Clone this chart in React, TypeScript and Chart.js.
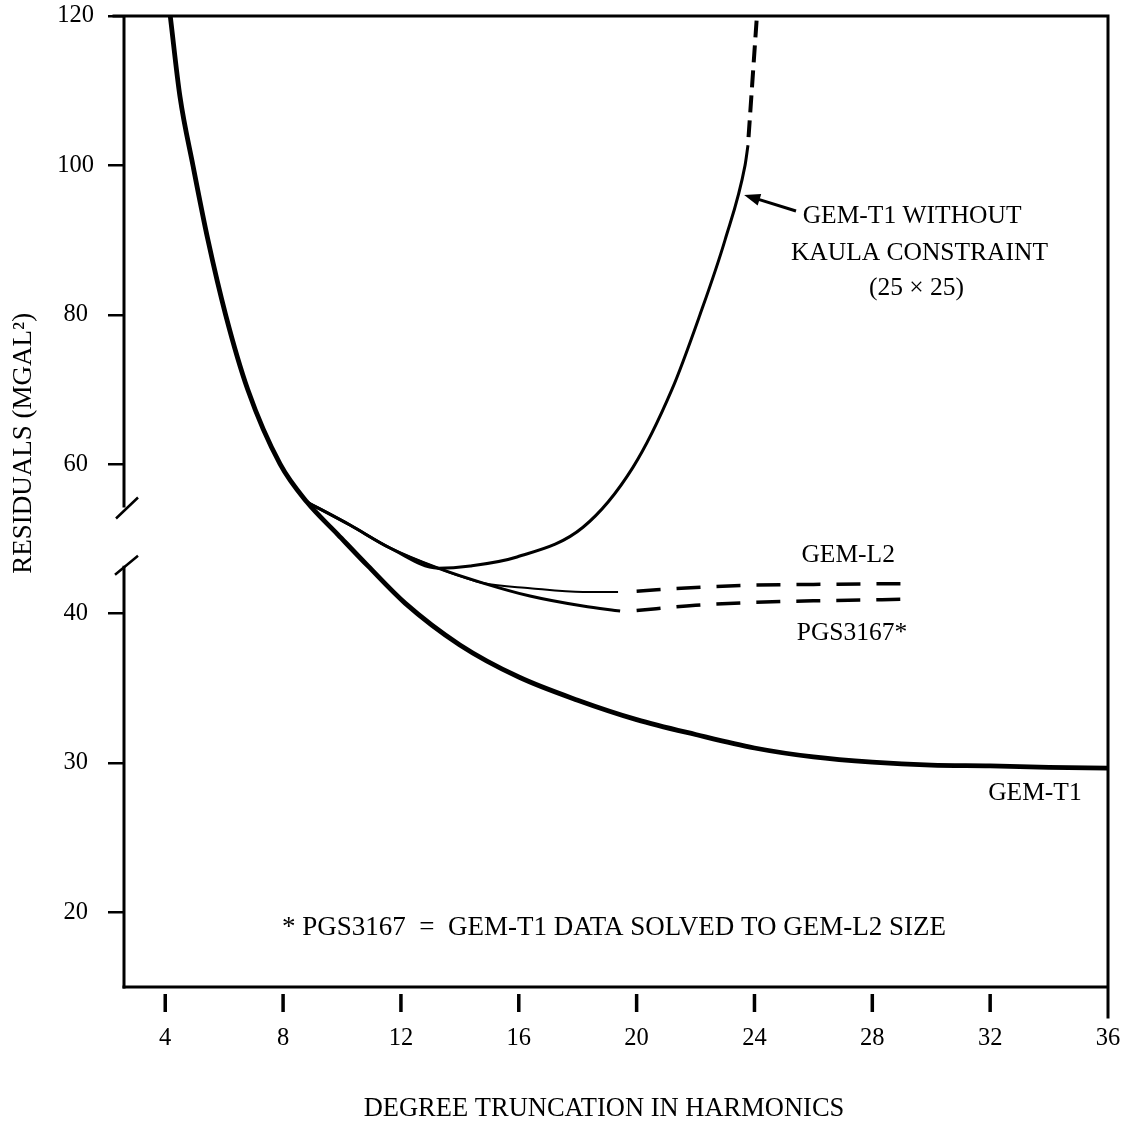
import React, { useEffect, useRef } from 'react';
import { Chart, registerables } from 'chart.js';

Chart.register(...registerables);

const FONT = '"Liberation Serif", "Times New Roman", "DejaVu Serif", serif';

// ---- data (x = degree truncation, y = residuals in mgal^2, real units) ----
const gemT1X = [4.17, 4.5, 4.94, 5.45, 6.05, 6.8, 7.9, 8.81, 9.86, 10.88, 12.14, 14, 16, 18, 20, 22, 24, 26, 28, 30, 32, 34, 36];
const gemT1Y = [120, 109.2, 100, 90, 80, 70, 60, 54.9, 49.1, 43.5, 40.7, 37.9, 35.75, 34.2, 32.9, 31.9, 31.0, 30.4, 30.05, 29.85, 29.8, 29.7, 29.65];

const kaulaX = [8.81, 10.27, 11.63, 13.26, 14.35, 15.94, 18.18, 19.88, 21.2, 22.15, 23.0, 23.68, 23.78];
const kaulaY = [54.9, 50.8, 46.7, 43.1, 43.5, 45.1, 50.4, 59.6, 70, 80, 90, 100, 102.7];
const kaulaDashX = [23.78, 24.1];
const kaulaDashY = [102.7, 121];

const gemL2X = [8.81, 10.27, 11.63, 13.26, 14.79, 16.38, 18.18, 19.37];
const gemL2Y = [54.9, 50.8, 46.7, 43.1, 42.04, 41.7, 41.44, 41.44];
const gemL2DashX = [20, 22, 24, 26, 29];
const gemL2DashY = [41.5, 41.75, 41.9, 41.95, 42.0];

const pgsX = [8.81, 10.27, 11.63, 13.26, 14.79, 16.38, 18.18, 19.44];
const pgsY = [54.9, 50.8, 46.7, 43.1, 42.04, 41.17, 40.5, 40.17];
const pgsDashX = [20, 22, 24, 26, 29];
const pgsDashY = [40.2, 40.55, 40.75, 40.85, 40.95];

const xTickValues = [4, 8, 12, 16, 20, 24, 28, 32, 36];
const yTickValues = [20, 30, 40, 60, 80, 100, 120];

// broken axis: lower part 1:1 up to 43, upper part half scale from 55 on
const toDisplay = (v: number) => (v <= 43 ? v : v >= 55 ? 20 + v / 2 : 43 + (v - 43) * 0.375);

const pts = (xs: number[], ys: number[]) => xs.map((x, i) => ({ x, y: toDisplay(ys[i]) }));

const notes = [
  { text: 'GEM-T1 WITHOUT', x: 29.35, y: 66.6 },
  { text: 'KAULA CONSTRAINT', x: 29.6, y: 64.14 },
  { text: '(25 \u00d7 25)', x: 29.5, y: 61.75 },
  { text: 'GEM-L2', x: 27.18, y: 43.92 },
  { text: 'PGS3167*', x: 27.31, y: 38.7 },
  { text: 'GEM-T1', x: 33.52, y: 27.99 },
];
const footnote = { text: '* PGS3167  =  GEM-T1 DATA SOLVED TO GEM-L2 SIZE', x: 19.23, y: 18.95 };
const arrow = { x1: 25.41, y1: 66.95, x2: 23.65, y2: 68.02 };
const BREAK_TOP = 47.1;
const BREAK_BOTTOM = 43.2;

const framePlugin = {
  id: 'frame',
  beforeDraw(chart: any) {
    const { ctx, width, height } = chart;
    ctx.save();
    ctx.fillStyle = '#fff';
    ctx.fillRect(0, 0, width, height);
    ctx.restore();
  },
  afterDraw(chart: any) {
    const { ctx, chartArea: a } = chart;
    const xs = chart.scales.x;
    const ys = chart.scales.y;
    ctx.save();
    ctx.strokeStyle = '#000';
    ctx.fillStyle = '#000';
    ctx.lineCap = 'square';
    ctx.lineWidth = 3;
    ctx.beginPath();
    ctx.moveTo(a.left - 10, a.top);
    ctx.lineTo(a.right, a.top);
    ctx.lineTo(a.right, a.bottom + 30);
    ctx.moveTo(a.left, a.bottom);
    ctx.lineTo(a.right, a.bottom);
    ctx.stroke();

    const yUp = ys.getPixelForValue(BREAK_TOP);
    const yLo = ys.getPixelForValue(BREAK_BOTTOM);
    ctx.lineCap = 'butt';
    ctx.beginPath();
    ctx.moveTo(a.left, a.top);
    ctx.lineTo(a.left, yUp);
    ctx.moveTo(a.left, yLo);
    ctx.lineTo(a.left, a.bottom + 1.5);
    ctx.stroke();
    ctx.lineWidth = 2.5;
    ctx.beginPath();
    ctx.moveTo(a.left - 8, yUp + 11);
    ctx.lineTo(a.left + 14, yUp - 10);
    ctx.moveTo(a.left - 9, yLo + 9);
    ctx.lineTo(a.left + 14, yLo - 10);
    ctx.stroke();

    // detached x tick marks
    ctx.lineWidth = 3.5;
    ctx.beginPath();
    xs.ticks.forEach((t: any) => {
      if (t.value >= xs.max) return;
      const px = xs.getPixelForValue(t.value);
      ctx.moveTo(px, a.bottom + 7);
      ctx.lineTo(px, a.bottom + 25);
    });
    ctx.stroke();

    // arrow
    const ax1 = xs.getPixelForValue(arrow.x1), ay1 = ys.getPixelForValue(arrow.y1);
    const ax2 = xs.getPixelForValue(arrow.x2), ay2 = ys.getPixelForValue(arrow.y2);
    const ang = Math.atan2(ay2 - ay1, ax2 - ax1);
    ctx.lineWidth = 3;
    ctx.beginPath();
    ctx.moveTo(ax1, ay1);
    ctx.lineTo(ax2 - 10 * Math.cos(ang), ay2 - 10 * Math.sin(ang));
    ctx.stroke();
    ctx.beginPath();
    ctx.moveTo(ax2, ay2);
    ctx.lineTo(ax2 - 16 * Math.cos(ang) + 6 * Math.sin(ang), ay2 - 16 * Math.sin(ang) - 6 * Math.cos(ang));
    ctx.lineTo(ax2 - 16 * Math.cos(ang) - 6 * Math.sin(ang), ay2 - 16 * Math.sin(ang) + 6 * Math.cos(ang));
    ctx.closePath();
    ctx.fill();

    // text
    ctx.textAlign = 'center';
    ctx.textBaseline = 'middle';
    ctx.font = `25.5px ${FONT}`;
    notes.forEach((n) => {
      ctx.fillText(n.text, xs.getPixelForValue(n.x), ys.getPixelForValue(n.y));
    });
    ctx.font = `27px ${FONT}`;
    ctx.fillText(footnote.text, xs.getPixelForValue(footnote.x), ys.getPixelForValue(footnote.y));

    // axis titles
    ctx.font = `26.5px ${FONT}`;
    ctx.fillText('DEGREE TRUNCATION IN HARMONICS', (a.left + a.right) / 2 - 12, chart.height - 19);
    ctx.save();
    ctx.font = `27px ${FONT}`;
    ctx.translate(24, ys.getPixelForValue(51.4));
    ctx.rotate(-Math.PI / 2);
    ctx.fillText('RESIDUALS (MGAL\u00b2)', 0, 0);
    ctx.restore();
    ctx.restore();
  },
};

export default function App() {
  const ref = useRef<HTMLCanvasElement | null>(null);
  useEffect(() => {
    if (!ref.current) return;
    const line = (data: any, width: number, dash: number[] = [], dashOffset = 0) => ({
      data,
      borderColor: '#000',
      borderWidth: width,
      borderDash: dash,
      borderDashOffset: dashOffset,
      pointRadius: 0,
      fill: false,
      cubicInterpolationMode: 'monotone',
      borderCapStyle: 'butt',
      borderJoinStyle: 'round',
    });
    const chart = new Chart(ref.current, {
      type: 'line',
      data: {
        datasets: [
          { label: 'GEM-T1', ...line(pts(gemT1X, gemT1Y), 4.8) },
          { label: 'GEM-T1 without Kaula constraint', ...line(pts(kaulaX, kaulaY), 3) },
          { label: 'GEM-T1 without Kaula (extrapolated)', ...line(pts(kaulaDashX, kaulaDashY), 4, [17, 8], 17) },
          { label: 'GEM-L2', ...line(pts(gemL2X, gemL2Y), 2) },
          { label: 'GEM-L2 (extrapolated)', ...line(pts(gemL2DashX, gemL2DashY), 3.5, [24, 16]) },
          { label: 'PGS3167', ...line(pts(pgsX, pgsY), 3) },
          { label: 'PGS3167 (extrapolated)', ...line(pts(pgsDashX, pgsDashY), 3.5, [24, 16]) },
        ] as any,
      },
      options: {
        animation: false,
        responsive: false,
        events: [],
        layout: { padding: { left: 0, top: 16, right: 14, bottom: 0 } },
        plugins: { legend: { display: false }, tooltip: { enabled: false }, title: { display: false } },
        scales: {
          x: {
            type: 'linear',
            min: 2.6,
            max: 36,
            afterBuildTicks: (s: any) => {
              s.ticks = xTickValues.map((v) => ({ value: v }));
            },
            afterFit: (s: any) => {
              s.height = 141;
              s.paddingLeft = 0;
              s.paddingRight = 0;
            },
            grid: { display: false, drawTicks: false },
            border: { display: false },
            ticks: {
              font: { family: FONT, size: 24.5 },
              color: '#000',
              padding: 37,
              maxRotation: 0,
              autoSkip: false,
              callback: (v: any) => String(v),
            },
          },
          y: {
            type: 'linear',
            min: 15,
            max: 80,
            afterBuildTicks: (s: any) => {
              s.ticks = yTickValues.map((v) => ({ value: toDisplay(v) }));
            },
            afterFit: (s: any) => {
              s.width = 124;
              s.paddingTop = 0;
              s.paddingBottom = 0;
            },
            grid: { drawOnChartArea: false, drawTicks: true, tickLength: 16, color: '#000', lineWidth: 2.5 },
            border: { display: false },
            ticks: {
              font: { family: FONT, size: 24.5 },
              color: '#000',
              padding: 14,
              crossAlign: 'center',
              autoSkip: false,
              callback: (_v: any, i: number) => String(yTickValues[i]),
            },
          },
        },
      } as any,
      plugins: [framePlugin],
    });
    return () => chart.destroy();
  }, []);
  return (
    <div style={{ position: 'absolute', left: 0, top: 0, width: 1122, height: 1128 }}>
      <canvas ref={ref} width={1122} height={1128} style={{ display: 'block' }} />
    </div>
  );
}
